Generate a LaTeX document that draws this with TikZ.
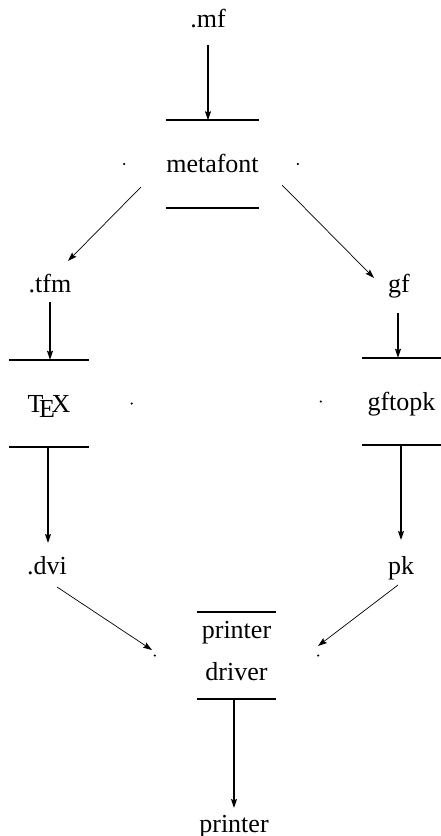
\documentclass[tikz,border=0pt]{standalone}
\usepackage{fontspec}
\setmainfont{Liberation Serif}
\usetikzlibrary{arrows.meta}
\begin{document}
\begin{tikzpicture}[x=1pt,y=-1pt,
  lbl/.style={inner sep=0pt, font=\fontsize{26}{42}\selectfont},
  proc/.style={lbl, minimum width=79pt, minimum height=87pt, align=center, text height=17pt, text depth=0pt},
  bar/.style={line width=2pt},
  tip/.style={-{Stealth[length=9pt,width=6pt,inset=1.5pt]}},
  varr/.style={tip, line width=1.5pt},
  darr/.style={tip, line width=0.7pt},
  dotmark/.style={fill=black}
]
\useasboundingbox (0,0) rectangle (441,836);
% text nodes
\node[lbl, anchor=base] (mf) at (208,27) {.mf};
\node[lbl, anchor=base] (tfm) at (50,292) {.tfm};
\node[lbl, anchor=base] (gf) at (399,292) {gf};
\node[lbl, anchor=base] (dvi) at (47,574) {.dvi};
\node[lbl, anchor=base] (pk) at (401,574) {pk};
\node[lbl, anchor=base] (prn) at (234,832) {printer};
% process boxes
\node[proc] (meta) at (212.5,164) {metafont};
\node[proc] (tex) at (49,403.5) {\TeX};
\node[proc] (gftopk) at (401.5,401.5) {gftopk};
\node[proc, text height=59pt, text depth=10pt] (drv) at (236.5,655.5) {printer\\driver};
\foreach \n in {meta,tex,gftopk,drv}{
  \draw[bar] (\n.north west) -- (\n.north east);
  \draw[bar] (\n.south west) -- (\n.south east);
}
% side marks
\coordinate (meta-w) at ([xshift=-42pt]meta.west);
\coordinate (meta-e) at ([xshift=39pt]meta.east);
\coordinate (tex-e) at ([xshift=43pt]tex.east);
\coordinate (gftopk-w) at ([xshift=-41pt]gftopk.west);
\coordinate (drv-w) at ([xshift=-42pt]drv.west);
\coordinate (drv-e) at ([xshift=42pt]drv.east);
\foreach \c in {meta-w,meta-e,tex-e,gftopk-w,drv-w,drv-e}{
  \fill[dotmark] (\c) circle (1.2pt);
}
% vertical arrows
\draw[varr, shorten <=18pt] (mf.base) -- (mf.base |- meta.north);
\draw[varr, shorten <=10pt] (tfm.base) -- (tfm.base |- tex.north);
\draw[varr, shorten <=21pt] ([xshift=-1pt]gf.base) -- ([xshift=-1pt]gf.base |- gftopk.north);
\draw[varr, shorten >=31pt] ([xshift=1pt]dvi.base |- tex.south) -- ([xshift=1pt]dvi.base);
\draw[varr, shorten >=34pt] (pk.base |- gftopk.south) -- (pk.base);
\draw[varr, shorten >=24pt] (prn.base |- drv.south) -- (prn.base);
% diagonal arrows
\coordinate (d1s) at (141,187); \coordinate (d1e) at (68,261);
\coordinate (d2s) at (282,185); \coordinate (d2e) at (374,278);
\coordinate (d3s) at (57,587);  \coordinate (d3e) at (152,650);
\coordinate (d4s) at (398,585); \coordinate (d4e) at (318,646);
\draw[darr] (d1s) -- (d1e);
\draw[darr] (d2s) -- (d2e);
\draw[darr] (d3s) -- (d3e);
\draw[darr] (d4s) -- (d4e);
\end{tikzpicture}
\end{document}
